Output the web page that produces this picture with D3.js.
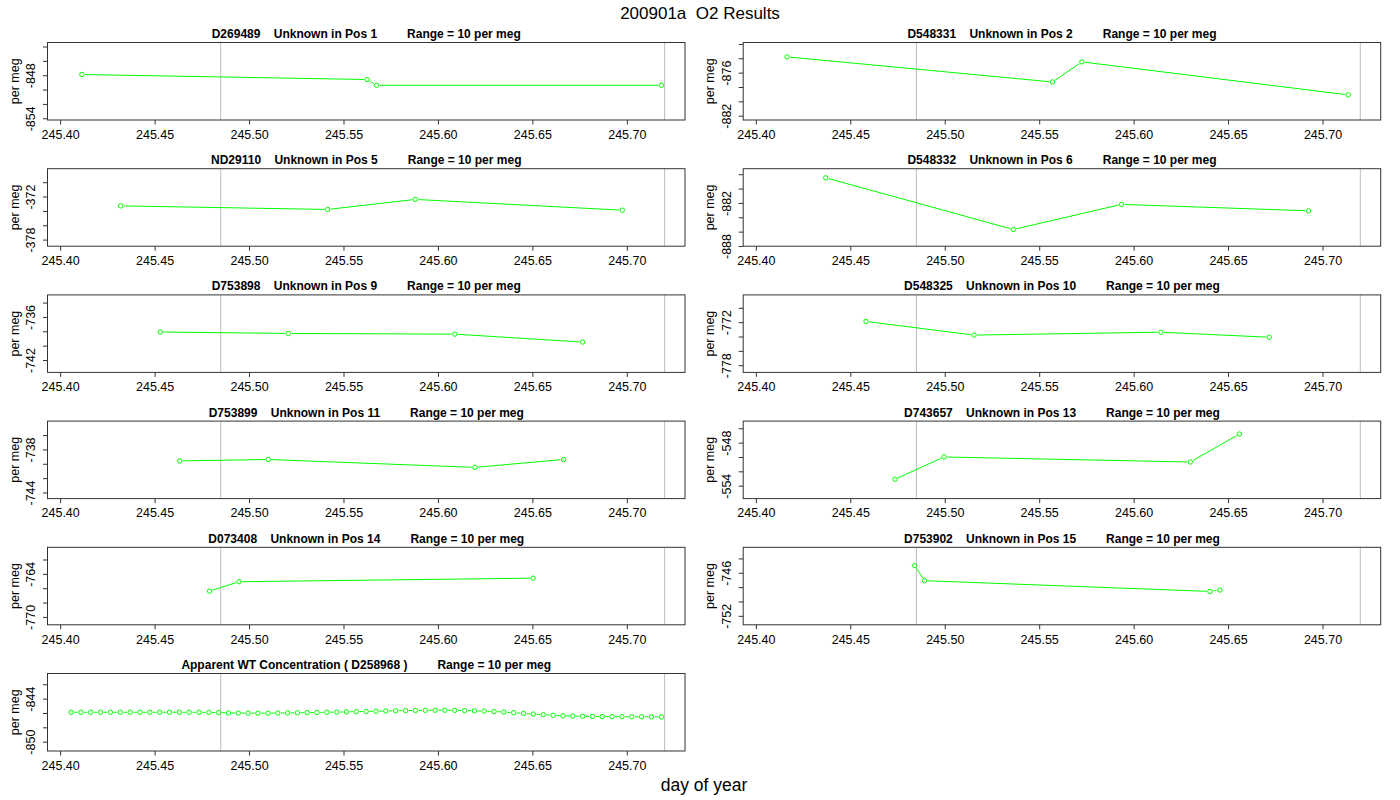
<!DOCTYPE html>
<html>
<head>
<meta charset="utf-8">
<script src="https://cdn.jsdelivr.net/npm/d3@7"></script>
<style>
  body { margin: 0; background: #fff; }
  text { font-family: "Liberation Sans", Arial, sans-serif; }
</style>
</head>
<body>
<div id="chart"></div>
<script>
// panel order: row by row, left then right
const panelIds = ['D269489', 'D548331', 'ND29110', 'D548332', 'D753898',
                  'D548325', 'D753899', 'D743657', 'D073408', 'D753902'];
const panelPos = [1, 2, 5, 6, 9, 10, 11, 13, 14, 15];
// centre of each 10 per meg window
const panelMids = [-848.84, -877.2, -373.52, -882.63, -738.33,
                   -773.6, -739.45, -550.4, -765.7, -747.85];

const unknownDays = [
  [245.4115, 245.5625, 245.5675, 245.7183],
  [245.4165, 245.5570, 245.5726, 245.7136],
  [245.4320, 245.5416, 245.5880, 245.6976],
  [245.4370, 245.5363, 245.5936, 245.6926],
  [245.4530, 245.5208, 245.6090, 245.6766],
  [245.4583, 245.5155, 245.6144, 245.6718],
  [245.4633, 245.5102, 245.6196, 245.6665],
  [245.4737, 245.4996, 245.6300, 245.6560],
  [245.4791, 245.4947, 245.6504],
  [245.4841, 245.4893, 245.6404, 245.6456],
];
const unknownVals = [
  [-847.9, -848.6, -849.4, -849.4],
  [-873.8, -877.3, -874.5, -879.1],
  [-373.3, -373.8, -372.4, -373.9],
  [-878.5, -885.7, -882.2, -883.1],
  [-738.1, -738.3, -738.4, -739.5],
  [-771.9, -773.8, -773.4, -774.1],
  [-739.6, -739.4, -740.5, -739.4],
  [-553.1, -550.0, -550.7, -546.8],
  [-766.4, -765.1, -764.6],
  [-745.0, -747.1, -748.6, -748.4],
];

// working tank
const wtId = 'D258968';
const wtMid = -845.9;
const wtDays = [
  245.4058, 245.4110, 245.4162, 245.4214, 245.4266, 245.4318, 245.4371, 245.4423,
  245.4475, 245.4527, 245.4579, 245.4631, 245.4683, 245.4735, 245.4787, 245.4839,
  245.4891, 245.4943, 245.4995, 245.5047, 245.5100, 245.5152, 245.5204, 245.5256,
  245.5308, 245.5360, 245.5412, 245.5464, 245.5516, 245.5568, 245.5620, 245.5672,
  245.5724, 245.5776, 245.5829, 245.5881, 245.5933, 245.5985, 245.6037, 245.6089,
  245.6141, 245.6193, 245.6245, 245.6297, 245.6349, 245.6401, 245.6453, 245.6505,
  245.6558, 245.6610, 245.6662, 245.6714, 245.6766, 245.6818, 245.6870, 245.6922,
  245.6974, 245.7026, 245.7078, 245.7130, 245.7183,
];
const wtVals = [
  -845.90, -845.90, -845.90, -845.90, -845.90, -845.90, -845.90, -845.90,
  -845.90, -845.90, -845.90, -845.90, -845.90, -845.90, -845.92, -845.94,
  -846.00, -846.02, -846.03, -846.03, -846.03, -846.02, -846.00, -845.98,
  -845.95, -845.93, -845.90, -845.88, -845.85, -845.82, -845.79, -845.76,
  -845.72, -845.70, -845.67, -845.65, -845.63, -845.62, -845.62, -845.64,
  -845.66, -845.70, -845.74, -845.80, -845.87, -845.96, -846.06, -846.15,
  -846.24, -846.32, -846.38, -846.43, -846.46, -846.48, -846.50, -846.51,
  -846.52, -846.53, -846.53, -846.54, -846.54,
];

const xTicks = [245.40, 245.45, 245.50, 245.55, 245.60, 245.65, 245.70];
const markerDays = [245.485, 245.72];
const yRange = 10;

const width = 1400;
const height = 800;
const colLeft = [47.5, 743.2];
const boxW = 637.5;
const boxH = 77.5;
const rowTop = 42.5;
const rowStep = 126.2;
const green = '#00ff00';

const svg = d3.select('#chart').append('svg')
    .attr('width', width)
    .attr('height', height)
    .style('background', '#fff');

// R style 4% padding on the time axis
const ext = d3.extent(wtDays);
const pad = (ext[1] - ext[0]) * 0.04;
const xlim = [ext[0] - pad, ext[1] + pad];

function drawPanel(col, row, title, mid, days, vals) {
  const left = colLeft[col];
  const top = rowTop + rowStep * row;
  const g = svg.append('g');

  const x = d3.scaleLinear().domain(xlim).range([left, left + boxW]);
  const lo = mid - yRange / 2 * 1.08;
  const hi = mid + yRange / 2 * 1.08;
  const y = d3.scaleLinear().domain([lo, hi]).range([top + boxH, top]);

  // title
  g.append('text')
      .attr('x', left + boxW / 2)
      .attr('y', top - 4.5)
      .attr('text-anchor', 'middle')
      .style('font-size', '12px')
      .style('font-weight', 'bold')
      .style('white-space', 'pre')
      .attr('xml:space', 'preserve')
      .text(title);

  // grey markers
  markerDays.forEach(d => {
    g.append('line')
        .attr('x1', x(d)).attr('x2', x(d))
        .attr('y1', top).attr('y2', top + boxH)
        .attr('stroke', '#bebebe')
        .attr('stroke-width', 1);
  });

  // x axis
  const xAxis = g.append('g')
      .attr('transform', `translate(0,${top + boxH})`)
      .call(d3.axisBottom(x).tickValues(xTicks).tickFormat(d3.format('.2f'))
          .tickSize(4.5).tickPadding(5.5));
  xAxis.select('.domain').remove();
  xAxis.selectAll('.tick line').attr('stroke', '#333');
  xAxis.selectAll('.tick text')
      .style('font-size', '12.5px')
      .style('font-family', '"Liberation Sans", Arial, sans-serif')
      .attr('fill', '#000');

  // y axis, every 2 per meg, label every third tick from the bottom
  const yTicks = d3.range(Math.ceil(lo / 2) * 2, hi, 2);
  const yAxis = g.append('g')
      .attr('transform', `translate(${left},0)`)
      .call(d3.axisLeft(y).tickValues(yTicks)
          .tickFormat((d, i) => i % 3 === 0 ? String(Math.round(d)) : '')
          .tickSize(4.5));
  yAxis.select('.domain').remove();
  yAxis.selectAll('.tick line').attr('stroke', '#333');
  yAxis.selectAll('.tick text')
      .attr('transform', 'rotate(-90)')
      .attr('x', 0)
      .attr('y', -12.5)
      .attr('dy', 0)
      .attr('text-anchor', 'middle')
      .attr('fill', '#000')
      .style('font-size', '12.5px')
      .style('font-family', '"Liberation Sans", Arial, sans-serif');

  g.append('text')
      .attr('transform', `translate(${left - 29},${top + boxH / 2}) rotate(-90)`)
      .attr('text-anchor', 'middle')
      .style('font-size', '12.5px')
      .text('per meg');

  // lines with small gaps around points (type "b")
  const gap = 3.2;
  for (let i = 1; i < days.length; i++) {
    const x1 = x(days[i - 1]), y1 = y(vals[i - 1]);
    const x2 = x(days[i]), y2 = y(vals[i]);
    const len = Math.hypot(x2 - x1, y2 - y1);
    if (len <= gap * 2) continue;
    const ux = (x2 - x1) / len, uy = (y2 - y1) / len;
    g.append('line')
        .attr('x1', x1 + ux * gap).attr('y1', y1 + uy * gap)
        .attr('x2', x2 - ux * gap).attr('y2', y2 - uy * gap)
        .attr('stroke', green)
        .attr('stroke-width', 1);
  }

  g.selectAll('circle.pt')
      .data(days.map((d, i) => [d, vals[i]]))
      .enter().append('circle')
      .attr('class', 'pt')
      .attr('cx', d => x(d[0]))
      .attr('cy', d => y(d[1]))
      .attr('r', 2.2)
      .attr('fill', 'none')
      .attr('stroke', green)
      .attr('stroke-width', 1);

  // frame
  g.append('rect')
      .attr('x', left).attr('y', top)
      .attr('width', boxW).attr('height', boxH)
      .attr('fill', 'none')
      .attr('stroke', '#333')
      .attr('stroke-width', 1);
}

panelIds.forEach((id, i) => {
  const title = `${id}    Unknown in Pos ${panelPos[i]}         Range = ${yRange} per meg`;
  drawPanel(i % 2, Math.floor(i / 2), title, panelMids[i], unknownDays[i], unknownVals[i]);
});

drawPanel(0, 5, `Apparent WT Concentration ( ${wtId} )         Range = ${yRange} per meg`,
    wtMid, wtDays, wtVals);

svg.append('text')
    .attr('x', width / 2)
    .attr('y', 19)
    .attr('text-anchor', 'middle')
    .style('font-size', '17px')
    .style('white-space', 'pre')
    .attr('xml:space', 'preserve')
    .text('200901a  O2 Results');

svg.append('text')
    .attr('x', 704)
    .attr('y', 791)
    .attr('text-anchor', 'middle')
    .style('font-size', '17.5px')
    .text('day of year');
</script>
</body>
</html>
